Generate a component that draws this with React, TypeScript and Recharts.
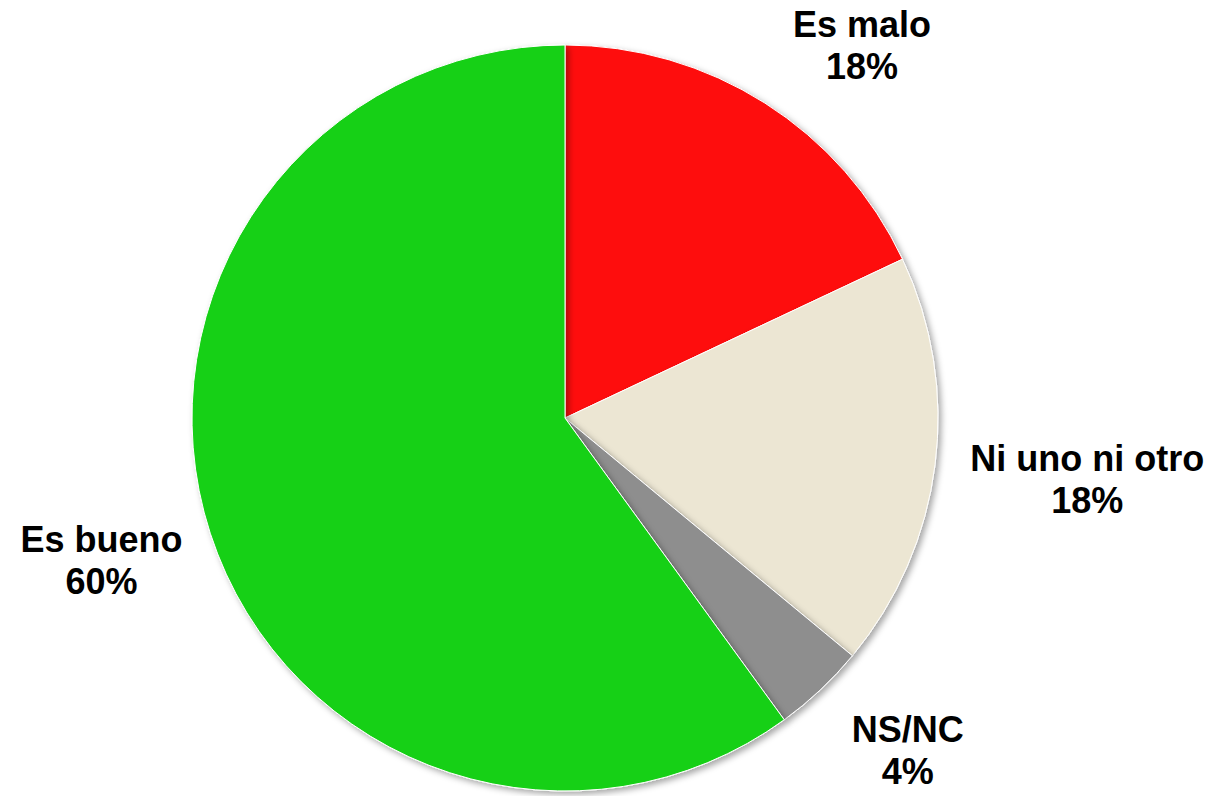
import React from 'react';
import { PieChart, Pie, Cell } from 'recharts';

const categories = ['Es malo', 'Ni uno ni otro', 'NS/NC', 'Es bueno'];
const shares = [18, 18, 4, 60];
const colors = ['#fe1010', '#ece6d3', '#8e8e8e', '#14d014'];

const data = categories.map((name, i) => ({ name, value: shares[i] }));

const RADIAN = Math.PI / 180;

// extra radial distance and angle nudge so labels sit where the original put them
const labelPlacement: Record<string, [number, number]> = {
  'Es malo': [103, -6.2],
  'Ni uno ni otro': [153, 0.4],
  'NS/NC': [105, 2.6],
  'Es bueno': [112, -0.9]
};

const renderLabel = (props: any) => {
  const { cx, cy, midAngle, outerRadius, name, value } = props;
  const [extra, nudge] = labelPlacement[name] || [100, 0];
  const r = outerRadius + extra;
  const a = (midAngle + nudge) * RADIAN;
  const x = cx + r * Math.cos(a);
  const y = cy - r * Math.sin(a);
  return (
    <text
      x={x}
      y={y}
      textAnchor="middle"
      fill="#000"
      style={{ fontFamily: '"Liberation Sans", Arial, sans-serif', fontWeight: 700, fontSize: 36 }}
    >
      <tspan x={x} y={y - 9}>{name}</tspan>
      <tspan x={x} y={y + 33}>{value}%</tspan>
    </text>
  );
};

export default function App() {
  return (
    <div style={{ position: 'absolute', left: 0, top: 0, width: 1215, height: 796, background: '#fff' }}>
      <PieChart width={1215} height={796} margin={{ top: 0, right: 0, bottom: 0, left: 0 }}>
        <defs>
          <filter id="pieShadow" x="-10%" y="-10%" width="120%" height="120%">
            <feDropShadow dx="3" dy="3" stdDeviation="3" floodColor="#000" floodOpacity="0.35" />
          </filter>
        </defs>
        <Pie
          data={data}
          dataKey="value"
          nameKey="name"
          cx={565}
          cy={418}
          outerRadius={373}
          startAngle={90}
          endAngle={-270}
          stroke="#ffffff"
          strokeWidth={1}
          label={renderLabel}
          labelLine={false}
          isAnimationActive={false}
          style={{ filter: 'url(#pieShadow)' }}
        >
          {data.map((d, i) => (
            <Cell key={d.name} fill={colors[i]} />
          ))}
        </Pie>
      </PieChart>
    </div>
  );
}
